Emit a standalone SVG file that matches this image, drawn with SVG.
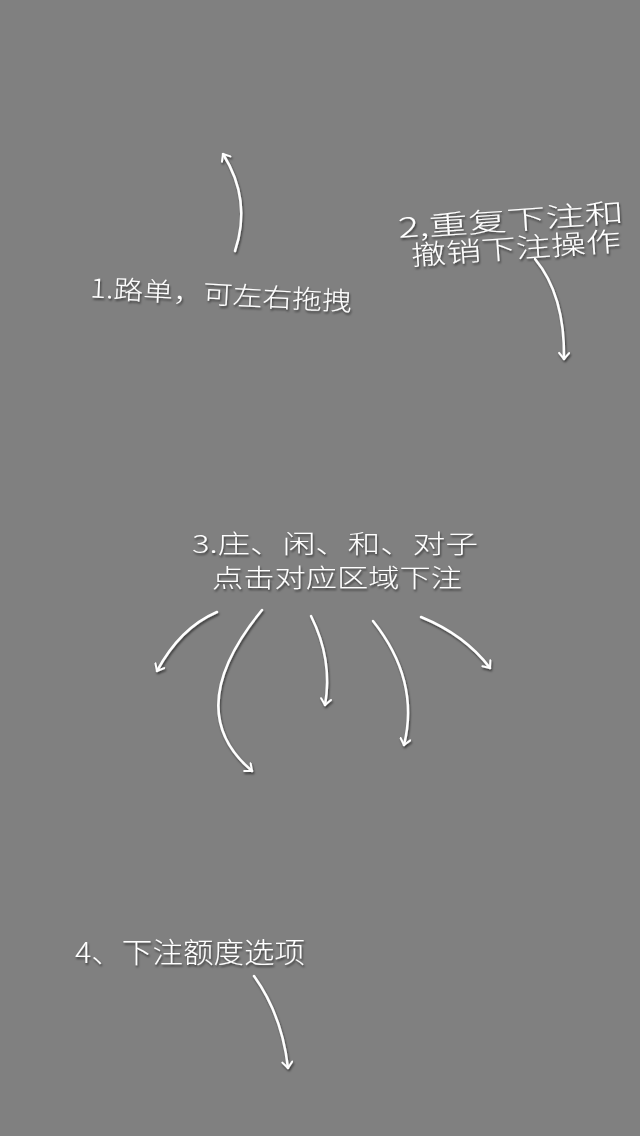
<svg xmlns="http://www.w3.org/2000/svg" width="640" height="1136" viewBox="0 0 640 1136">
<defs>
<filter id="sh" x="-20%" y="-20%" width="140%" height="140%">
<feDropShadow dx="1" dy="2" stdDeviation="1" flood-color="#000" flood-opacity="0.55"/>
</filter>
<marker id="ah" viewBox="0 0 12 12" refX="8" refY="6" markerWidth="12" markerHeight="12" markerUnits="userSpaceOnUse" orient="auto">
<path d="M2,1 L8,6 L2,11" fill="none" stroke="#fff" stroke-width="2" stroke-linecap="round" stroke-linejoin="round"/>
</marker>
</defs>
<style>
.t{font-family:"Noto Sans CJK SC","Noto Sans CJK JP",sans-serif;fill:#fff;font-weight:300;}
.c{fill:none;stroke:#fff;stroke-width:2.5;stroke-linecap:round;marker-end:url(#ah);}
</style>
<rect width="640" height="1136" fill="#808080"/>
<g id="label1" filter="url(#sh)">
<text class="t" x="90" y="304" font-size="26" transform="rotate(3 220 295)" textLength="262" lengthAdjust="spacingAndGlyphs">1.路单，可左右拖拽</text>
</g>
<g id="label2" filter="url(#sh)">
<text class="t" x="398" y="230" font-size="27" transform="rotate(-4 510 222)" textLength="226" lengthAdjust="spacingAndGlyphs">2,重复下注和</text>
<text class="t" x="411" y="258" font-size="27" transform="rotate(-4 515 250)" textLength="210" lengthAdjust="spacingAndGlyphs">撤销下注操作</text>
</g>
<g id="label3" filter="url(#sh)">
<text class="t" x="192" y="553" font-size="25" textLength="286" lengthAdjust="spacingAndGlyphs">3.庄、闲、和、对子</text>
<text class="t" x="212" y="587" font-size="25" textLength="250" lengthAdjust="spacingAndGlyphs">点击对应区域下注</text>
</g>
<g id="label4" filter="url(#sh)">
<text class="t" x="75" y="963" font-size="28" textLength="230" lengthAdjust="spacingAndGlyphs">4、下注额度选项</text>
</g>
<g id="connectors" filter="url(#sh)">
<path class="c" d="M235,251 Q252,200 223,154"/>
<path class="c" d="M535,259 Q565,295 564,359"/>
<path class="c" d="M217,612 Q180,628 157,671"/>
<path class="c" d="M262,610 Q180,710 252,771"/>
<path class="c" d="M311,616 Q333,660 325,705"/>
<path class="c" d="M373,621 Q420,680 404,745"/>
<path class="c" d="M421,617 Q465,635 490,668"/>
<path class="c" d="M254,976 Q282,1015 288,1068"/>
</g>
</svg>
